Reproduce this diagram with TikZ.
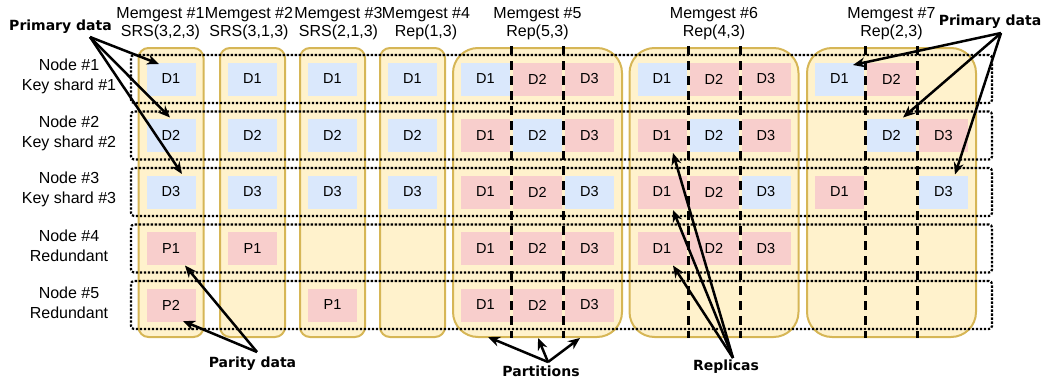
\documentclass[tikz,border=0pt]{standalone}
\usepackage{fontspec}
\setmainfont{Liberation Sans}
\newfontfamily\lblfont{DejaVu Sans}
\usetikzlibrary{arrows.meta,calc}
\definecolor{ybg}{HTML}{FFF2CC}
\definecolor{ybd}{HTML}{D6B656}
\definecolor{bbg}{HTML}{DAE8FC}
\definecolor{rbg}{HTML}{F8CECC}
\begin{document}
\begin{tikzpicture}[x=1pt,y=-1pt,
  colbox/.style={draw=ybd,fill=ybg,line width=2pt,rounded corners=10pt,minimum width=65pt,minimum height=289pt,inner sep=0pt,outer sep=0pt},
  widebox/.style={colbox,rounded corners=25pt,minimum width=169pt},
  rowbox/.style={draw=black,line width=2.2pt,dash pattern=on 2.3pt off 1.7pt,rounded corners=3pt,minimum width=861pt,minimum height=48pt,inner sep=0pt,outer sep=0pt},
  cellbase/.style={minimum width=49pt,minimum height=33pt,inner sep=0pt,outer sep=0pt,font=\fontsize{14.5}{16}\selectfont},
  hdr/.style={align=center,font=\fontsize{16}{18}\selectfont},
  rowlbl/.style={align=center,font=\fontsize{16}{20}\selectfont},
  callout/.style={font=\lblfont\bfseries\fontsize{14}{16}\selectfont,inner sep=0pt},
  arr/.style={line width=2.5pt,-{Stealth[length=12pt,width=10pt]}},
  part/.style={line width=3pt,dash pattern=on 9pt off 6pt}
]
\useasboundingbox (0,0) rectangle (1046,380);

% memgest columns
\foreach \i/\x in {1/171,2/252.5,3/332.5,4/412.5}
  \node[colbox] (col\i) at (\x,192.5) {};
\foreach \i/\x in {5/537.5,6/714,7/891.5}
  \node[widebox] (col\i) at (\x,192.5) {};

% node rows
\foreach \r in {1,...,5}
  \node[rowbox] (row\r) at (561.5,{79+56.5*(\r-1)}) {};

% headers
\node[hdr] (h1) at (160.5,24) {Memgest \#1\\SRS(3,2,3)};
\node[hdr] (h2) at (249,24) {Memgest \#2\\SRS(3,1,3)};
\node[hdr] (h3) at (338.5,24) {Memgest \#3\\SRS(2,1,3)};
\node[hdr] (h4) at (426,24) {Memgest \#4\\Rep(1,3)};
\node[hdr] (h5) at (537.5,24) {Memgest \#5\\Rep(5,3)};
\node[hdr] (h6) at (714,24) {Memgest \#6\\Rep(4,3)};
\node[hdr] (h7) at (891.5,24) {Memgest \#7\\Rep(2,3)};

% row labels
\node[rowlbl] (l1) at (69,76.5) {Node \#1\\Key shard \#1};
\node[rowlbl] (l2) at (69,133) {Node \#2\\Key shard \#2};
\node[rowlbl] (l3) at (69,189.5) {Node \#3\\Key shard \#3};
\node[rowlbl] (l4) at (69,246) {Node \#4\\Redundant};
\node[rowlbl] (l5) at (69,302.5) {Node \#5\\Redundant};

% SRS / Rep(1,3) cells
\foreach \c/\x in {1/171,2/252.5,3/332.5,4/412.5}
  \foreach \r in {1,2,3}
    \node[cellbase,fill=bbg] (c\c-\r) at (\x,{79+56.5*(\r-1)}) {D\r};
\node[cellbase,fill=rbg] (c1-4) at (171,248.5) {P1};
\node[cellbase,fill=rbg] (c1-5) at (171,305) {P2};
\node[cellbase,fill=rbg] (c2-4) at (252.5,248.5) {P1};
\node[cellbase,fill=rbg] (c3-5) at (332.5,305) {P1};

% Memgest #5
\foreach \r/\a/\b/\cc in {1/bbg/rbg/rbg,2/rbg/bbg/rbg,3/rbg/rbg/bbg,4/rbg/rbg/rbg,5/rbg/rbg/rbg}{
  \node[cellbase,fill=\a] (c5-\r-1) at (485.5,{79+56.5*(\r-1)}) {D1};
  \node[cellbase,fill=\b] (c5-\r-2) at (537.5,{79+56.5*(\r-1)}) {D2};
  \node[cellbase,fill=\cc] (c5-\r-3) at (589.5,{79+56.5*(\r-1)}) {D3};
}
% Memgest #6
\foreach \r/\a/\b/\cc in {1/bbg/rbg/rbg,2/rbg/bbg/rbg,3/rbg/rbg/bbg,4/rbg/rbg/rbg}{
  \node[cellbase,fill=\a] (c6-\r-1) at (662,{79+56.5*(\r-1)}) {D1};
  \node[cellbase,fill=\b] (c6-\r-2) at (714,{79+56.5*(\r-1)}) {D2};
  \node[cellbase,fill=\cc] (c6-\r-3) at (766,{79+56.5*(\r-1)}) {D3};
}
% Memgest #7
\node[cellbase,fill=bbg] (c7-1-1) at (839.5,79) {D1};
\node[cellbase,fill=rbg] (c7-1-2) at (891.5,79) {D2};
\node[cellbase,fill=bbg] (c7-2-2) at (891.5,135.5) {D2};
\node[cellbase,fill=rbg] (c7-2-3) at (943.5,135.5) {D3};
\node[cellbase,fill=rbg] (c7-3-1) at (839.5,192) {D1};
\node[cellbase,fill=bbg] (c7-3-3) at (943.5,192) {D3};

% partition lines
\foreach \c in {5,6,7}{
  \draw[part] ($(col\c.north)+(-26,-2)$) -- ($(col\c.south)+(-26,1)$);
  \draw[part] ($(col\c.north)+(26,-2)$) -- ($(col\c.south)+(26,1)$);
}

% callout labels
\node[callout] (pdl) at (60.5,27) {Primary data};
\node[callout] (pdr) at (990,22) {Primary data};
\node[callout] (par) at (252.5,364) {Parity data};
\node[callout] (prt) at (541,371) {Partitions};
\node[callout] (rep) at (726,367) {Replicas};

% arrow start / end points
\coordinate (sL) at (90,37);
\coordinate (sR) at (1001,33);
\coordinate (sP) at (257,352);
\coordinate (sT) at (548,362);
\coordinate (sQ) at (733,358);

\draw[arr] (sL) -- ($(c1-1.north west)+(12.5,1.5)$);
\draw[arr] (sL) -- ($(c1-2.north)+(-1,-1.5)$);
\draw[arr] (sL) -- ($(c1-3.north)+(11,-1.5)$);

\draw[arr] (sR) -- ($(c7-1-1.north east)+(-11,2.5)$);
\draw[arr] (sR) -- ($(c7-2-2.north)+(11.5,-1.5)$);
\draw[arr] (sR) -- ($(c7-3-3.north)+(11.5,-1)$);

\draw[arr] (sP) -- ($(c1-4.south)+(14,0.5)$);
\draw[arr] (sP) -- ($(c1-5.south)+(12,-0.5)$);

\draw[arr] (sT) -- ($(col5.south)+(-49.5,0)$);
\draw[arr] (sT) -- ($(col5.south)+(0.5,1)$);
\draw[arr] (sT) -- ($(col5.south)+(42.5,1)$);

\draw[arr] (sQ) -- ($(c6-2-1.south)+(11,1)$);
\draw[arr] (sQ) -- ($(c6-3-1.south)+(11,1.5)$);
\draw[arr] (sQ) -- ($(c6-4-1.south)+(11,0.5)$);
\end{tikzpicture}
\end{document}
